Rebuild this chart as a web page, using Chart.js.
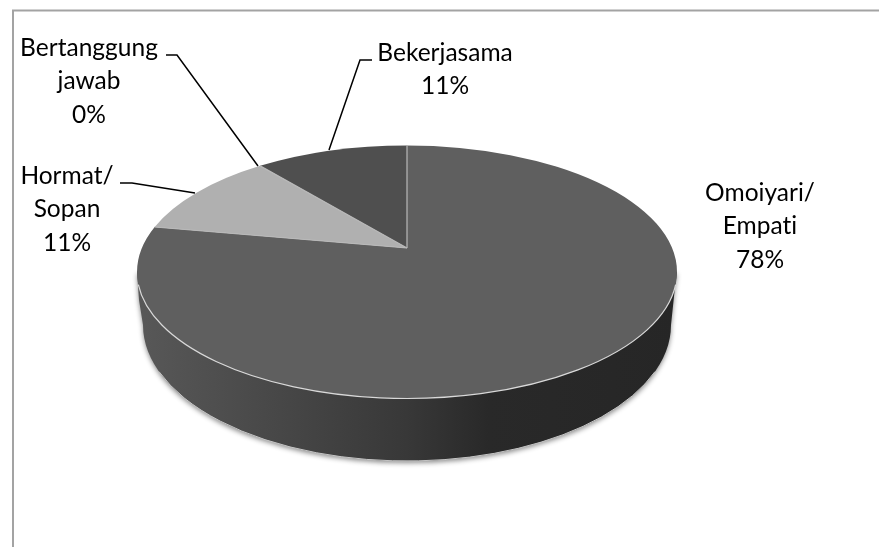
<!DOCTYPE html>
<html>
<head>
<meta charset="utf-8">
<title>Pie</title>
<script src="https://cdn.jsdelivr.net/npm/chart.js@4"></script>
<style>
  html, body { margin: 0; padding: 0; background: #fff; overflow: hidden; }
  #box { width: 879px; height: 547px; }
</style>
</head>
<body>
<div id="box"><canvas id="pieChart"></canvas></div>
<script>
/* data, clockwise from 12 o'clock */
const categories = ['Omoiyari/ Empati', 'Hormat/ Sopan', 'Bertanggung jawab', 'Bekerjasama'];
const percents = [77.8, 11.1, 0, 11.1];
const sliceColors = ['#5f5f5f', '#b0b0b0', '#8a8a8a', '#4f4f4f'];

/* where each label goes: text centre, first line y, leader polyline */
const labelSpots = [
  { x: 760, y: 193, leader: null },
  { x: 67, y: 176, leader: [[120, 183], [132, 183], [195, 193]] },
  { x: 89, y: 48, leader: [[166, 55], [177, 55], [258, 166]] },
  { x: 445, y: 53, leader: [[372, 60], [360, 60], [329, 150]] }
];
const lineGap = 33.3;

/* the tilted pie: top ellipse, base ellipse, and the point where the slices meet */
const top3d = { x: 407, y: 272, rx: 270, ry: 126.5 };
const base3d = { x: 407, y: 325, rx: 264, ry: 136 };
const apexY = 248;

/* ray from the apex to the top ellipse, returned as ellipse parameter angle */
function rimAngle(a) {
  const k = (apexY - top3d.y) / top3d.ry;
  const dx = Math.cos(a), dy = Math.sin(a);
  const b = k * dy;
  const t = -b + Math.sqrt(b * b - k * k + 1);
  return Math.atan2(k + t * dy, t * dx);
}

/* arcs keep the angles Chart.js worked out, only the outline is drawn in perspective */
Chart.ArcElement.prototype.draw = function (ctx) {
  if (this.circumference === 0) return;
  ctx.save();
  ctx.beginPath();
  ctx.moveTo(top3d.x, apexY);
  ctx.ellipse(top3d.x, top3d.y, top3d.rx, top3d.ry, 0, rimAngle(this.startAngle), rimAngle(this.endAngle));
  ctx.closePath();
  ctx.fillStyle = this.options.backgroundColor;
  ctx.fill();
  ctx.restore();
};

const pie3d = {
  id: 'pie3d',
  beforeDraw(chart) {
    const ctx = chart.ctx;
    ctx.save();
    ctx.strokeStyle = '#a3a3a3';
    ctx.lineWidth = 2;
    ctx.beginPath();
    ctx.moveTo(13, 547);
    ctx.lineTo(13, 10.5);
    ctx.lineTo(879, 10.5);
    ctx.stroke();
    ctx.restore();
  },
  beforeDatasetsDraw(chart) {
    const ctx = chart.ctx;
    const wall = ctx.createLinearGradient(137, 0, 677, 0);
    wall.addColorStop(0, '#585858');
    wall.addColorStop(0.25, '#484848');
    wall.addColorStop(0.5, '#383838');
    wall.addColorStop(0.65, '#292929');
    wall.addColorStop(1, '#262626');
    ctx.save();
    ctx.beginPath();
    ctx.moveTo(top3d.x - top3d.rx, top3d.y);
    ctx.lineTo(139, 300);
    ctx.lineTo(base3d.x - base3d.rx, base3d.y);
    ctx.ellipse(base3d.x, base3d.y, base3d.rx, base3d.ry, 0, Math.PI, 0, true);
    ctx.lineTo(675, 287);
    ctx.lineTo(top3d.x + top3d.rx, top3d.y);
    ctx.closePath();
    ctx.shadowColor = 'rgba(0,0,0,0.45)';
    ctx.shadowBlur = 5;
    ctx.shadowOffsetY = 2;
    ctx.fillStyle = wall;
    ctx.fill();
    ctx.shadowColor = 'transparent';
    ctx.strokeStyle = '#c4c4c4';
    ctx.lineWidth = 1;
    ctx.beginPath();
    ctx.ellipse(base3d.x, base3d.y, base3d.rx, base3d.ry, 0, 0.35, Math.PI - 0.35);
    ctx.stroke();
    ctx.restore();
  },
  afterDatasetsDraw(chart) {
    const ctx = chart.ctx;
    const arcs = chart.getDatasetMeta(0).data;
    ctx.save();
    /* light seams between the slices and along the front rim */
    ctx.strokeStyle = '#b9b9b9';
    ctx.lineWidth = 1.2;
    arcs.forEach(arc => {
      if (arc.circumference === 0) return;
      const phi = rimAngle(arc.startAngle);
      ctx.beginPath();
      ctx.moveTo(top3d.x, apexY);
      ctx.lineTo(top3d.x + top3d.rx * Math.cos(phi), top3d.y + top3d.ry * Math.sin(phi));
      ctx.stroke();
    });
    ctx.strokeStyle = '#d9d9d9';
    ctx.beginPath();
    ctx.ellipse(top3d.x, top3d.y, top3d.rx, top3d.ry, 0, 0.1, Math.PI - 0.1);
    ctx.stroke();

    /* labels and leaders */
    ctx.strokeStyle = '#000';
    ctx.lineWidth = 1.5;
    ctx.fillStyle = '#000';
    ctx.font = '24.5px Lato';
    ctx.letterSpacing = '0.01px';
    ctx.textAlign = 'center';
    ctx.textBaseline = 'middle';
    categories.forEach((name, i) => {
      const spot = labelSpots[i];
      const lines = name.split(' ').concat(Math.round(percents[i]) + '%');
      lines.forEach((text, n) => ctx.fillText(text, spot.x, spot.y + n * lineGap));
      if (spot.leader) {
        ctx.beginPath();
        spot.leader.forEach((p, n) => n ? ctx.lineTo(p[0], p[1]) : ctx.moveTo(p[0], p[1]));
        ctx.stroke();
      }
    });
    ctx.restore();
  }
};

new Chart(document.getElementById('pieChart'), {
  type: 'pie',
  data: {
    labels: categories,
    datasets: [{ data: percents, backgroundColor: sliceColors, borderWidth: 0 }]
  },
  options: {
    responsive: true,
    maintainAspectRatio: false,
    animation: false,
    events: [],
    plugins: { legend: { display: false }, tooltip: { enabled: false } }
  },
  plugins: [pie3d]
});
</script>
</body>
</html>
